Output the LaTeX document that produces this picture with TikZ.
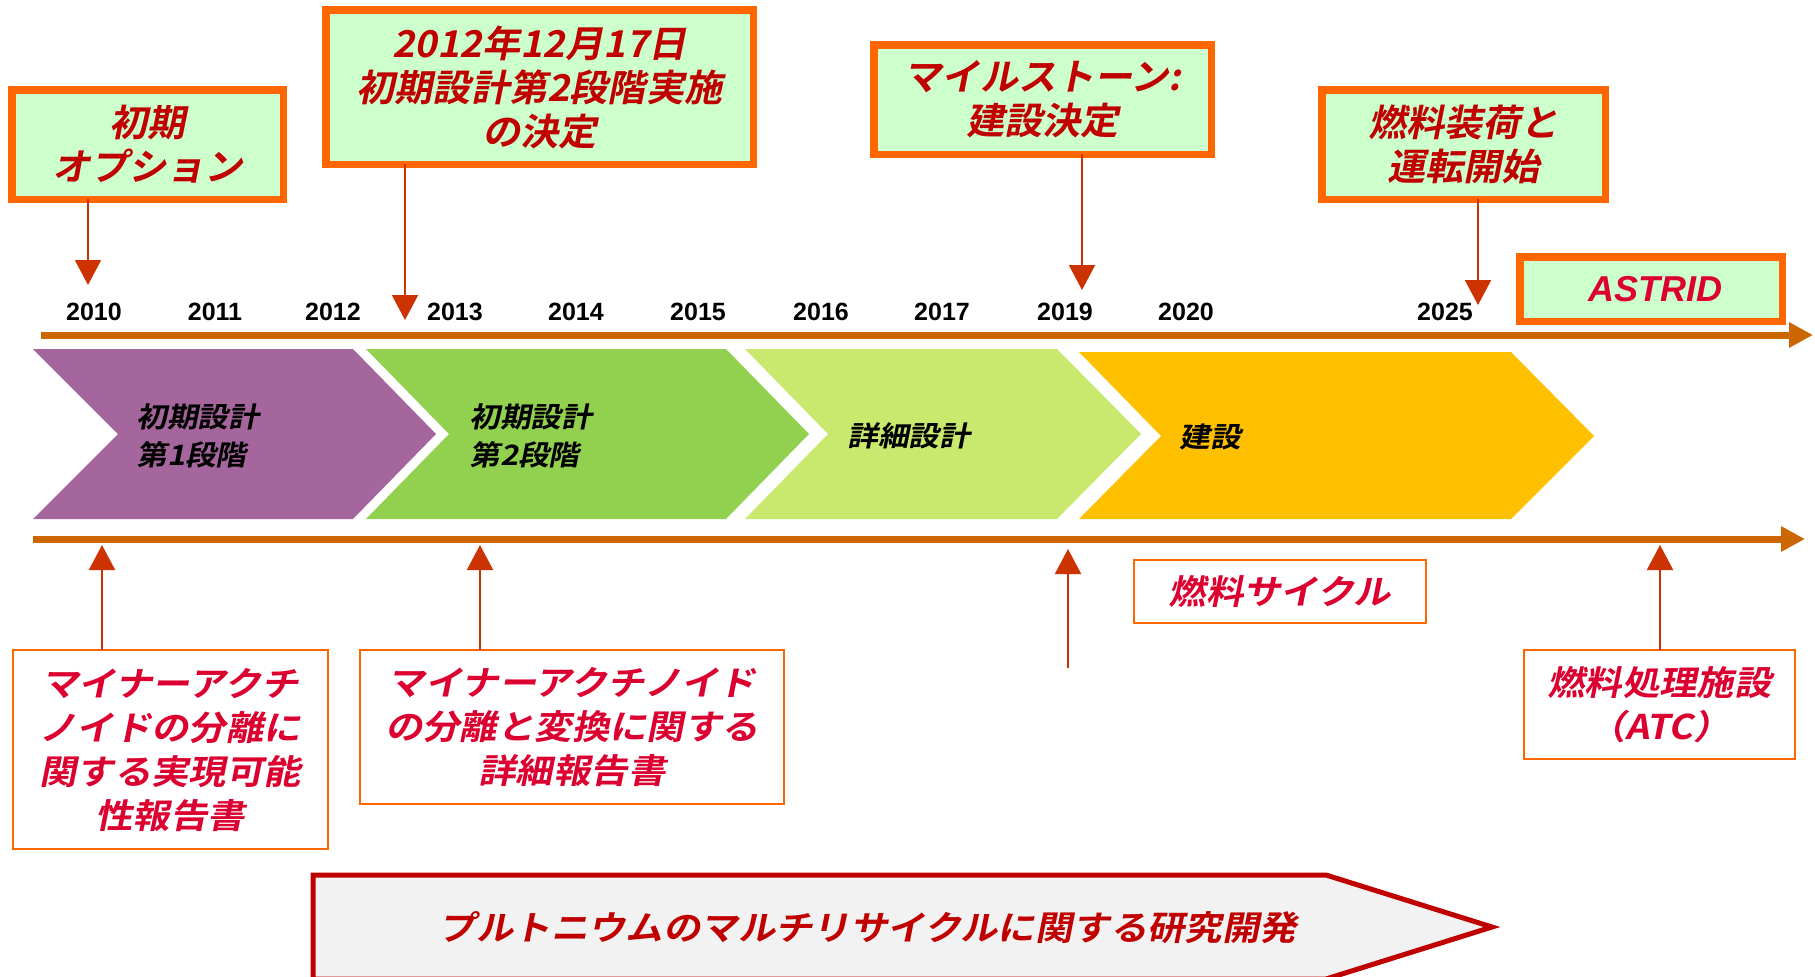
\documentclass[tikz,border=0pt]{standalone}
\usepackage{fontspec}
\usetikzlibrary{arrows.meta}
\newfontfamily\jpA[FakeSlant=0.2,FakeStretch=1.1]{Noto Sans CJK JP Bold}
\newfontfamily\jpT[FakeSlant=0.2,FakeStretch=1.03]{Noto Sans CJK JP Bold}
\newfontfamily\yearF{Liberation Sans Bold}
\newfontfamily\astrF{Liberation Sans Bold Italic}
\newcommand\fTop{\jpT\fontsize{37}{44}\selectfont}
\newcommand\fBot{\jpA\fontsize{34}{44}\selectfont}
\newcommand\fChev{\jpA\fontsize{28}{38}\selectfont}
\newcommand\fYear{\yearF\fontsize{25}{30}\selectfont}
\newcommand\fAstr{\astrF\fontsize{36}{40}\selectfont}
\definecolor{axisc}{HTML}{CC6600}
\definecolor{arrc}{HTML}{CC3300}
\definecolor{boxb}{HTML}{FF6600}
\definecolor{boxf}{HTML}{CCFFCC}
\definecolor{darkred}{HTML}{C00000}
\definecolor{crim}{HTML}{DC0030}
\definecolor{purp}{HTML}{A5669E}
\definecolor{grn}{HTML}{92D050}
\definecolor{lgrn}{HTML}{C8E86E}
\definecolor{yel}{HTML}{FFC000}
\definecolor{pgray}{HTML}{F2F2F2}
\tikzset{
  tbox/.style={draw=boxb, fill=boxf, line width=7.5pt, inner sep=0pt, outer sep=0pt, align=center, text=darkred, font=\fTop},
  bbox/.style={draw=boxb, fill=white, line width=2pt, inner sep=0pt, outer sep=0pt, align=center, text=crim, font=\fBot},
  marr/.style={draw=arrc, line width=2pt, -{Triangle[width=26pt,length=25pt]}, fill=arrc},
  axisarr/.style={draw=axisc, line width=7pt, -{Triangle[width=24pt,length=24pt]}, fill=axisc},
  yearlbl/.style={font=\fYear, inner sep=0pt, text=black},
  chevlbl/.style={font=\fChev, inner sep=0pt, align=left, anchor=west, text=black},
}
\begin{document}
\begin{tikzpicture}[x=1pt,y=-1pt]
\useasboundingbox (0,0) rectangle (1815,977);

% axes
\coordinate (ax1s) at (41,335);
\coordinate (ax1e) at (1813,335);
\coordinate (ax2s) at (33,539);
\coordinate (ax2e) at (1805,539);
\draw[axisarr] (ax1s) -- (ax1e);
\draw[axisarr] (ax2s) -- (ax2e);

% years
\node[yearlbl] (y2010) at (94,312) {2010};
\node[yearlbl] (y2011) at (215,312) {2011};
\node[yearlbl] (y2012) at (333,312) {2012};
\node[yearlbl] (y2013) at (455,312) {2013};
\node[yearlbl] (y2014) at (576,312) {2014};
\node[yearlbl] (y2015) at (698,312) {2015};
\node[yearlbl] (y2016) at (821,312) {2016};
\node[yearlbl] (y2017) at (942,312) {2017};
\node[yearlbl] (y2019) at (1065,312) {2019};
\node[yearlbl] (y2020) at (1186,312) {2020};
\node[yearlbl] (y2025) at (1445,312) {2025};

% chevrons
\fill[purp] (33,349) -- (353,349) -- (436,434) -- (353,519) -- (33,519) -- (118,434) -- cycle;
\fill[grn] (366,349) -- (726,349) -- (809,434) -- (726,519) -- (366,519) -- (449,434) -- cycle;
\fill[lgrn] (745,349) -- (1057,349) -- (1141,434) -- (1057,519) -- (745,519) -- (828,434) -- cycle;
\fill[yel] (1079,352) -- (1511,352) -- (1594,436) -- (1511,519) -- (1079,519) -- (1161,436) -- cycle;
\node[chevlbl] (c1) at (136,436) {初期設計\\第1段階};
\node[chevlbl] (c2) at (469,436) {初期設計\\第2段階};
\node[chevlbl] (c3) at (847,436) {詳細設計};
\node[chevlbl] (c4) at (1179,437) {建設};

% top boxes
\node[tbox, minimum width=271.5pt, minimum height=109.5pt] (b1) at (147.5,144.5) {初期\\オプション};
\node[tbox, minimum width=427.5pt, minimum height=154.5pt] (b2) at (539.5,87) {2012年12月17日\\初期設計第2段階実施\\の決定};
\node[tbox, minimum width=337.5pt, minimum height=109.5pt] (b3) at (1042.5,99.5) {マイルストーン:\\建設決定};
\node[tbox, minimum width=283.5pt, minimum height=109.5pt] (b4) at (1463.5,144.5) {燃料装荷と\\運転開始};
\node[tbox, minimum width=262.5pt, minimum height=64.5pt, text=crim, font=\fAstr] (b5) at (1651,289) {\hspace*{8pt}ASTRID};

% down arrows
\coordinate (t1) at (88,285);
\coordinate (t2) at (405,320);
\coordinate (t3) at (1082,290);
\coordinate (t4) at (1478,305);
\draw[marr] (t1 |- b1.south) -- (t1);
\draw[marr] (t2 |- b2.south) -- (t2);
\draw[marr] (t3 |- b3.south) -- (t3);
\draw[marr] (t4 |- b4.south) -- (t4);

% bottom boxes
\node[bbox, minimum width=315.5pt, minimum height=199pt] (r1) at (170.25,749.5) {マイナーアクチ\\ノイドの分離に\\関する実現可能\\性報告書};
\node[bbox, minimum width=424pt, minimum height=154pt] (r2) at (572,727) {マイナーアクチノイド\\の分離と変換に関する\\詳細報告書};
\node[bbox, minimum width=292pt, minimum height=63pt] (r3) at (1280,591.5) {燃料サイクル};
\node[bbox, minimum width=271pt, minimum height=109pt] (r4) at (1659.5,704.5) {燃料処理施設\\（ATC）};

% up arrows
\coordinate (u1) at (102,545);
\coordinate (u2) at (480,545);
\coordinate (u3) at (1068,549);
\coordinate (f3) at (1068,668);
\coordinate (u4) at (1660,545);
\draw[marr] (u1 |- r1.north) -- (u1);
\draw[marr] (u2 |- r2.north) -- (u2);
\draw[marr] (f3) -- (u3);
\draw[marr] (u4 |- r4.north) -- (u4);

% big pentagon arrow
\draw[draw=darkred, fill=pgray, line width=5pt, line join=miter] (313,875) -- (1326,875) -- (1492,927) -- (1326,979) -- (313,979) -- cycle;
\node[font=\fBot, text=darkred, inner sep=0pt] (pent) at (868,928) {プルトニウムのマルチリサイクルに関する研究開発};
\end{tikzpicture}
\end{document}
